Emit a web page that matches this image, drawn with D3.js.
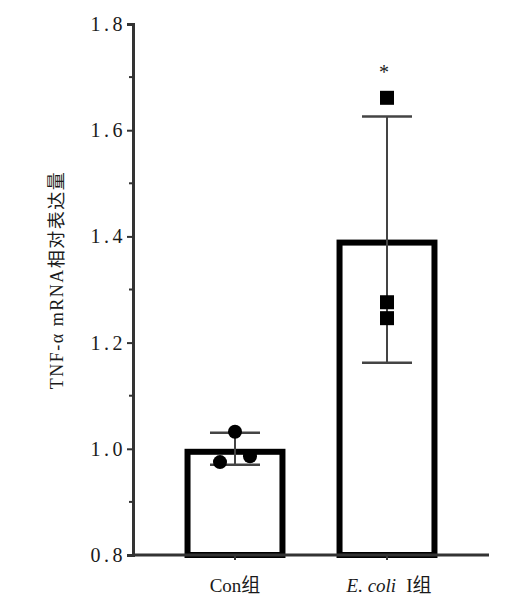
<!DOCTYPE html>
<html>
<head>
<meta charset="utf-8">
<style>
  body { margin: 0; background: #fff; }
  svg text { font-family: "Liberation Serif", "Noto Sans CJK SC", serif; fill: #1a1a1a; }
</style>
</head>
<body>
<svg width="508" height="602"></svg>
<script src="https://cdn.jsdelivr.net/npm/d3@7/dist/d3.min.js"></script>
<script>
// data
const groups = ['Con', 'Ecoli'];
const means = [1.0, 1.394];
const sds = [0.030, 0.232];
const conPoints = [1.032, 0.975, 0.986];
const ecoliPoints = [1.661, 1.276, 1.246];
const pointOffsets = [0, -15, 15];   // horizontal jitter of the dots, px
const yTicks = [0.8, 1.0, 1.2, 1.4, 1.6, 1.8];
const yMinor = [0.9, 1.1, 1.3, 1.5, 1.7];

const svg = d3.select('svg');
const m = { left: 133, right: 489, top: 24, bottom: 555 };

const y = d3.scaleLinear().domain([0.8, 1.8]).range([m.bottom, m.top]);
const x = d3.scaleBand().domain(groups).range([m.left, m.right]).paddingInner(0.336).paddingOuter(0.339);
const bw = x.bandwidth();

// y axis
const yAxis = d3.axisLeft(y).tickValues(yTicks).tickFormat(d3.format('.1f')).tickSize(6).tickPadding(1);
const gy = svg.append('g').attr('transform', `translate(${m.left},0)`).call(yAxis);
gy.select('.domain').attr('stroke', '#333').attr('stroke-width', 3);
gy.selectAll('.tick line').attr('stroke', '#333').attr('stroke-width', 2);
gy.selectAll('.tick text').attr('font-size', 20).attr('letter-spacing', 3.5).attr('fill', '#333')
  .attr('font-family', '"Liberation Serif", serif');
svg.append('g').selectAll('line').data(yMinor).join('line')
  .attr('x1', m.left - 4).attr('x2', m.left).attr('y1', d => y(d)).attr('y2', d => y(d))
  .attr('stroke', '#333').attr('stroke-width', 2);

// bars (border drawn just inside the value line)
svg.append('g').selectAll('rect').data(groups).join('rect')
  .attr('x', d => x(d) + 3).attr('width', bw - 6)
  .attr('y', (d, i) => y(means[i]) + 3).attr('height', (d, i) => m.bottom - y(means[i]) - 3)
  .attr('fill', '#fff').attr('stroke', '#000').attr('stroke-width', 6);

// x axis
svg.append('line').attr('x1', m.left).attr('x2', m.right).attr('y1', m.bottom).attr('y2', m.bottom)
  .attr('stroke', '#333').attr('stroke-width', 3);
svg.append('g').selectAll('line').data(groups).join('line')
  .attr('x1', d => x(d) + bw / 2).attr('x2', d => x(d) + bw / 2)
  .attr('y1', m.bottom).attr('y2', m.bottom + 5).attr('stroke', '#333').attr('stroke-width', 2);

// error bars
const err = svg.append('g').attr('stroke', '#444');
groups.forEach((g, i) => {
  const cx = x(g) + bw / 2;
  err.append('line').attr('x1', cx).attr('x2', cx)
    .attr('y1', y(means[i] + sds[i])).attr('y2', y(means[i] - sds[i])).attr('stroke-width', 2);
  [means[i] + sds[i], means[i] - sds[i]].forEach(v => {
    err.append('line').attr('x1', cx - 25).attr('x2', cx + 25)
      .attr('y1', y(v)).attr('y2', y(v)).attr('stroke-width', 2.5);
  });
});

// points
const cCon = x('Con') + bw / 2;
svg.append('g').selectAll('circle').data(conPoints).join('circle')
  .attr('cx', (d, i) => cCon + pointOffsets[i]).attr('cy', d => y(d)).attr('r', 7).attr('fill', '#000');
const cEc = x('Ecoli') + bw / 2;
svg.append('g').selectAll('rect').data(ecoliPoints).join('rect')
  .attr('x', d => cEc - 7).attr('y', d => y(d) - 7).attr('width', 14).attr('height', 14).attr('fill', '#000');

// significance mark
svg.append('text').attr('x', cEc - 3).attr('y', y(1.661) - 19).attr('text-anchor', 'middle')
  .attr('font-size', 20).text('*');

// x labels
svg.append('text').attr('x', cCon).attr('y', 592).attr('text-anchor', 'middle').attr('font-size', 19)
  .text('Con组');
const lab = svg.append('text').attr('x', cEc + 2).attr('y', 592).attr('text-anchor', 'middle').attr('font-size', 19);
lab.append('tspan').attr('font-style', 'italic').text('E. coli');
lab.append('tspan').attr('dx', 10).text('I组');

// y title
svg.append('text').attr('transform', `translate(63,280) rotate(-90)`)
  .attr('text-anchor', 'middle').attr('font-size', 18).attr('letter-spacing', 1.5)
  .text('TNF-α mRNA相对表达量');
</script>
</body>
</html>
